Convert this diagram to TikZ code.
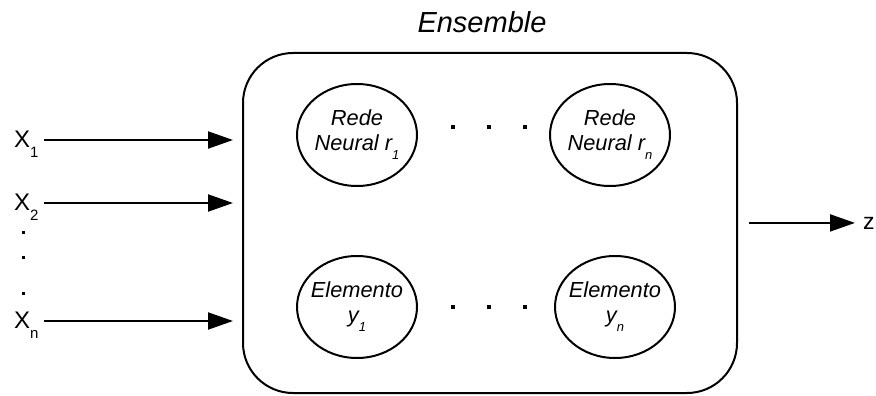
\documentclass[tikz,border=0pt]{standalone}
\usepackage{fontspec}
\setmainfont{Liberation Sans}
\usetikzlibrary{arrows.meta,shapes.geometric,calc}

\newcommand{\lowidx}[3]{\raisebox{-#2pt}{\fontsize{#1}{#1}\selectfont #3}}

\begin{document}
\begin{tikzpicture}[x=1pt, y=-1pt, line width=2pt,
  unit/.style={ellipse, draw, minimum width=120pt, minimum height=102pt,
    inner xsep=-16pt, inner ysep=0pt, align=center,
    font=\fontsize{21.8}{25}\selectfont\itshape},
  inlabel/.style={anchor=base west, inner sep=0pt, font=\fontsize{24}{24}\selectfont},
  flow/.style={-{Triangle[length=25pt,width=17pt]}}]

\useasboundingbox (0,0) rectangle (876,396);

\node [draw, rounded corners=50pt, minimum width=494pt, minimum height=340pt,
  inner sep=0pt] (ens) at (490,223) {};
\node [font=\fontsize{29}{29}\selectfont\itshape] (title) at (482,22) {Ensemble};

\node [unit] (r1) at (357,135) {Rede\\Neural r\lowidx{13}{9}{1}};
\node [unit] (rn) at (610,135) {Rede\\Neural r\lowidx{13}{9}{n}};
\node [unit] (y1) at (357,307) {Elemento\\y\lowidx{13}{9}{1}};
\node [unit] (yn) at (615,307) {Elemento\\y\lowidx{13}{9}{n}};

\foreach \xx in {453,489,525} {
  \fill (\xx-1.75,127-1.75) rectangle +(3.5,3.5);
  \fill (\xx-1.75,307-1.75) rectangle +(3.5,3.5);
}

\node [inlabel] (x1) at (13,147) {X\lowidx{15}{10}{1}};
\node [inlabel] (x2) at (13,210) {X\lowidx{15}{10}{2}};
\node [inlabel] (xn) at (13,328) {X\lowidx{15}{10}{n}};

\foreach \yy in {232,257,293}
  \fill (21.5,\yy-1.5) rectangle +(3,3);

\coordinate (in1) at (ens.west |- 0,140);
\coordinate (in2) at (ens.west |- 0,203);
\coordinate (inn) at (ens.west |- 0,321);
\draw [flow, shorten >=9pt] ($(x1.east |- in1)+(5,0)$) -- (in1);
\draw [flow, shorten >=9pt] ($(x2.east |- in2)+(5,0)$) -- (in2);
\draw [flow, shorten >=9pt] ($(xn.east |- inn)+(5,0)$) -- (inn);

\node [anchor=base west, inner sep=0pt, font=\fontsize{23}{23}\selectfont] (z) at (862,229) {z};
\coordinate (out) at ($(z.west)+(-7,0)$);
\draw [flow] ($(ens.east |- out)+(11,0)$) -- (out);

\end{tikzpicture}
\end{document}
